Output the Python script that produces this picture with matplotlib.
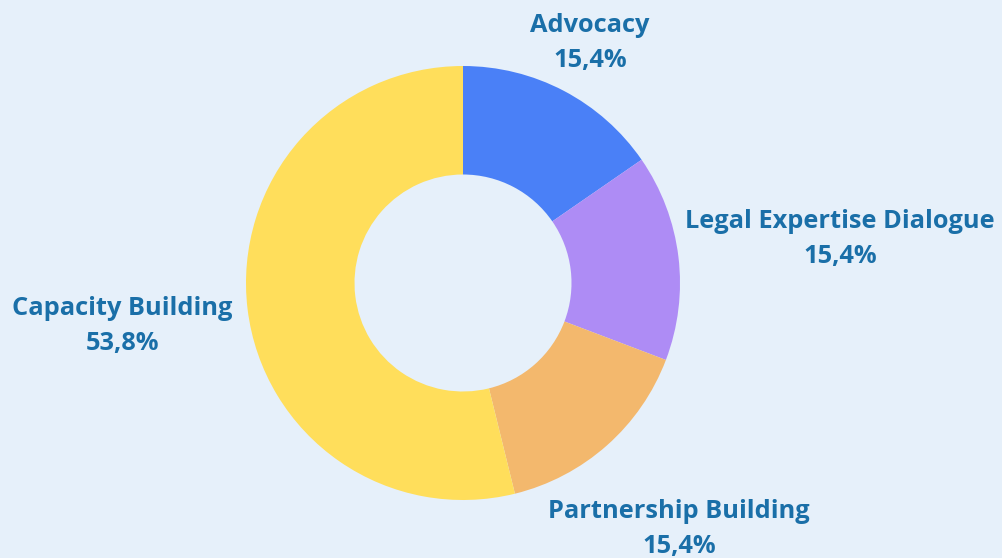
import matplotlib.pyplot as plt

categories = ["Advocacy", "Legal Expertise Dialogue", "Partnership Building", "Capacity Building"]
values = [2, 2, 2, 7]
percent_labels = ["15,4%", "15,4%", "15,4%", "53,8%"]

colors = ["#4A80F7", "#AE8CF5", "#F3B86D", "#FFDE5B"]
bg = "#E6F0FA"
label_color = "#1A6FA8"

# label anchor points (in pie radius units)
label_pos = [(0.585, 1.106), (1.737, 0.203), (0.995, -1.134), (-1.571, -0.198)]

fig = plt.figure(figsize=(10.02, 5.58), dpi=100)
fig.patch.set_facecolor(bg)
ax = fig.add_axes([0, 0, 1, 1])
ax.set_facecolor(bg)

ax.pie(values, colors=colors, startangle=90, counterclock=False,
       radius=1.0, wedgeprops=dict(width=0.5, edgecolor="none", linewidth=0))

for name, pct, (x, y) in zip(categories, percent_labels, label_pos):
    ax.text(x, y, name + "\n" + pct, ha="center", va="center",
            fontsize=18.3, fontweight="bold", color=label_color,
            family="Open Sans", linespacing=1.5)

# scale so 1 unit = 217 px, center at (463, 283) from top-left
ax.set_xlim(-463 / 217, (1002 - 463) / 217)
ax.set_ylim(-275 / 217, 283 / 217)
ax.set_aspect("equal")
ax.axis("off")

fig.savefig("out.png", dpi=100, facecolor=bg)
